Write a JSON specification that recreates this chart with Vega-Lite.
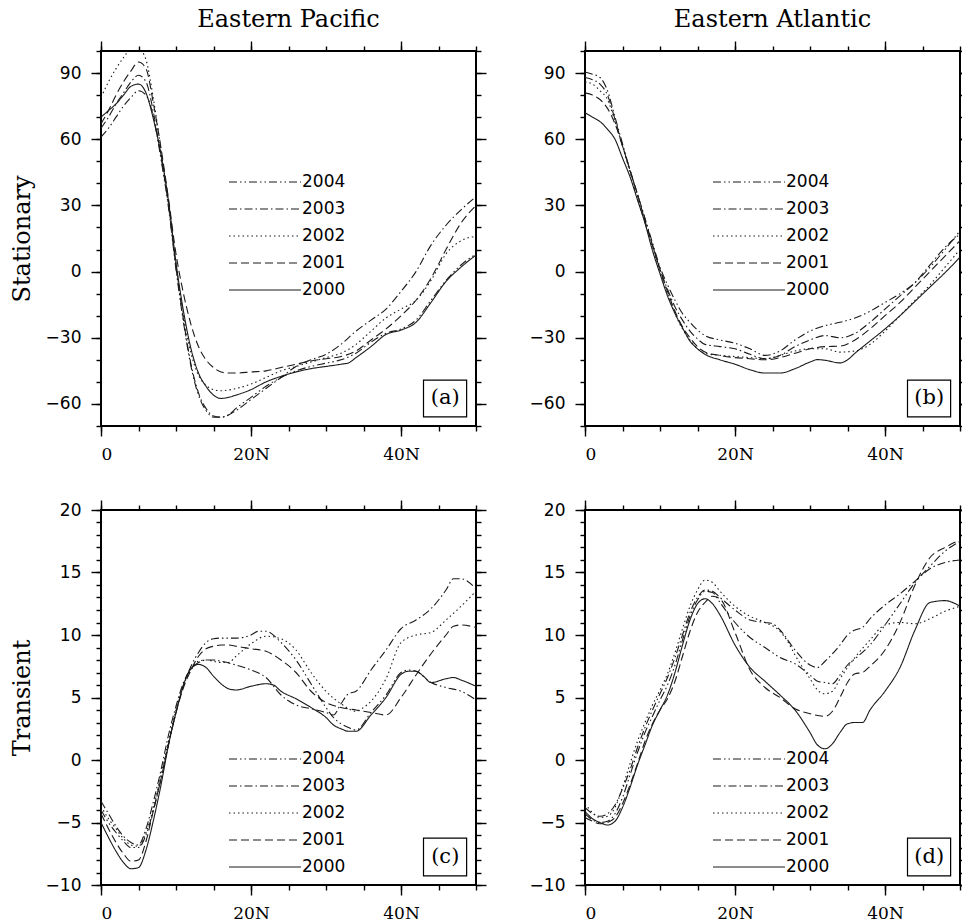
{
"$schema": "https://vega.github.io/schema/vega-lite/v6.json",
"background": "white",
"padding": {"left": 9, "top": 7, "right": 0, "bottom": 0},
"columns": 2,
"spacing": {"row": 84, "column": 109},
"bounds": "flush",
"resolve": {"scale": {"strokeDash": "independent"}, "legend": {"strokeDash": "independent"}},
"datasets": {
"a": [
{"x":0,"s":"2000","v":70},{"x":1,"s":"2000","v":73},{"x":2,"s":"2000","v":76},{"x":3,"s":"2000","v":80},{"x":4,"s":"2000","v":84},{"x":5,"s":"2000","v":85},{"x":6,"s":"2000","v":81},{"x":7,"s":"2000","v":69},{"x":8,"s":"2000","v":53},{"x":9,"s":"2000","v":32},{"x":10,"s":"2000","v":4},{"x":11,"s":"2000","v":-18},{"x":12,"s":"2000","v":-35},{"x":13,"s":"2000","v":-46},{"x":14,"s":"2000","v":-52},{"x":15,"s":"2000","v":-56},{"x":16,"s":"2000","v":-57.5},{"x":17,"s":"2000","v":-57},{"x":18,"s":"2000","v":-56},{"x":20,"s":"2000","v":-53.5},{"x":22,"s":"2000","v":-50},{"x":24,"s":"2000","v":-47.5},{"x":26,"s":"2000","v":-45.5},{"x":28,"s":"2000","v":-44},{"x":30,"s":"2000","v":-43},{"x":32,"s":"2000","v":-42},{"x":33,"s":"2000","v":-41.4},{"x":34,"s":"2000","v":-39},{"x":36,"s":"2000","v":-34},{"x":38,"s":"2000","v":-28.5},{"x":40,"s":"2000","v":-26.5},{"x":42,"s":"2000","v":-23},{"x":44,"s":"2000","v":-14},{"x":46,"s":"2000","v":-4.5},{"x":48,"s":"2000","v":2},{"x":50,"s":"2000","v":7.5},
{"x":0,"s":"2001","v":67},{"x":1,"s":"2001","v":73},{"x":2,"s":"2001","v":80},{"x":3,"s":"2001","v":86},{"x":4,"s":"2001","v":91},{"x":5,"s":"2001","v":95},{"x":6,"s":"2001","v":92},{"x":7,"s":"2001","v":76},{"x":8,"s":"2001","v":56},{"x":9,"s":"2001","v":33},{"x":10,"s":"2001","v":8},{"x":11,"s":"2001","v":-10},{"x":12,"s":"2001","v":-24},{"x":13,"s":"2001","v":-34},{"x":14,"s":"2001","v":-40},{"x":15,"s":"2001","v":-43.5},{"x":16,"s":"2001","v":-45.5},{"x":17,"s":"2001","v":-46},{"x":18,"s":"2001","v":-46},{"x":20,"s":"2001","v":-45.5},{"x":22,"s":"2001","v":-45},{"x":24,"s":"2001","v":-43.5},{"x":26,"s":"2001","v":-42},{"x":28,"s":"2001","v":-40.5},{"x":30,"s":"2001","v":-39.5},{"x":32,"s":"2001","v":-38.5},{"x":34,"s":"2001","v":-36},{"x":36,"s":"2001","v":-31},{"x":38,"s":"2001","v":-26},{"x":40,"s":"2001","v":-20},{"x":42,"s":"2001","v":-13},{"x":44,"s":"2001","v":-3},{"x":46,"s":"2001","v":10},{"x":48,"s":"2001","v":22},{"x":50,"s":"2001","v":30},
{"x":0,"s":"2002","v":79},{"x":1,"s":"2002","v":86},{"x":2,"s":"2002","v":92},{"x":3,"s":"2002","v":97},{"x":4,"s":"2002","v":101},{"x":5,"s":"2002","v":101},{"x":6,"s":"2002","v":96},{"x":7,"s":"2002","v":78},{"x":8,"s":"2002","v":55},{"x":9,"s":"2002","v":31},{"x":10,"s":"2002","v":3},{"x":11,"s":"2002","v":-20},{"x":12,"s":"2002","v":-37},{"x":13,"s":"2002","v":-47},{"x":14,"s":"2002","v":-51.5},{"x":15,"s":"2002","v":-53.5},{"x":16,"s":"2002","v":-54},{"x":18,"s":"2002","v":-53},{"x":20,"s":"2002","v":-51},{"x":22,"s":"2002","v":-48},{"x":24,"s":"2002","v":-45},{"x":26,"s":"2002","v":-43},{"x":28,"s":"2002","v":-41},{"x":30,"s":"2002","v":-39},{"x":32,"s":"2002","v":-37},{"x":34,"s":"2002","v":-33},{"x":36,"s":"2002","v":-27},{"x":38,"s":"2002","v":-21},{"x":40,"s":"2002","v":-17},{"x":42,"s":"2002","v":-13},{"x":44,"s":"2002","v":-4},{"x":46,"s":"2002","v":8},{"x":48,"s":"2002","v":14},{"x":50,"s":"2002","v":16},
{"x":0,"s":"2003","v":65},{"x":1,"s":"2003","v":70},{"x":2,"s":"2003","v":76},{"x":3,"s":"2003","v":81},{"x":4,"s":"2003","v":86},{"x":5,"s":"2003","v":89},{"x":6,"s":"2003","v":86},{"x":7,"s":"2003","v":72},{"x":8,"s":"2003","v":52},{"x":9,"s":"2003","v":30},{"x":10,"s":"2003","v":2},{"x":11,"s":"2003","v":-22},{"x":12,"s":"2003","v":-42},{"x":13,"s":"2003","v":-55},{"x":14,"s":"2003","v":-62},{"x":15,"s":"2003","v":-65.5},{"x":16,"s":"2003","v":-66},{"x":17,"s":"2003","v":-65},{"x":18,"s":"2003","v":-63},{"x":20,"s":"2003","v":-58},{"x":22,"s":"2003","v":-53},{"x":24,"s":"2003","v":-48},{"x":26,"s":"2003","v":-43},{"x":28,"s":"2003","v":-40},{"x":30,"s":"2003","v":-37.5},{"x":32,"s":"2003","v":-33},{"x":34,"s":"2003","v":-27},{"x":36,"s":"2003","v":-22},{"x":38,"s":"2003","v":-17},{"x":40,"s":"2003","v":-9},{"x":42,"s":"2003","v":0},{"x":44,"s":"2003","v":12},{"x":46,"s":"2003","v":21},{"x":48,"s":"2003","v":28},{"x":50,"s":"2003","v":34},
{"x":0,"s":"2004","v":61},{"x":1,"s":"2004","v":65},{"x":2,"s":"2004","v":70},{"x":3,"s":"2004","v":75},{"x":4,"s":"2004","v":79},{"x":5,"s":"2004","v":82},{"x":6,"s":"2004","v":80},{"x":7,"s":"2004","v":70},{"x":8,"s":"2004","v":51},{"x":9,"s":"2004","v":29},{"x":10,"s":"2004","v":1},{"x":11,"s":"2004","v":-23},{"x":12,"s":"2004","v":-43},{"x":13,"s":"2004","v":-56},{"x":14,"s":"2004","v":-63},{"x":15,"s":"2004","v":-66},{"x":16,"s":"2004","v":-66},{"x":17,"s":"2004","v":-65},{"x":18,"s":"2004","v":-62},{"x":20,"s":"2004","v":-57},{"x":22,"s":"2004","v":-52},{"x":24,"s":"2004","v":-48},{"x":26,"s":"2004","v":-45},{"x":28,"s":"2004","v":-43},{"x":30,"s":"2004","v":-41.5},{"x":32,"s":"2004","v":-40},{"x":34,"s":"2004","v":-37},{"x":36,"s":"2004","v":-32},{"x":38,"s":"2004","v":-28},{"x":40,"s":"2004","v":-26},{"x":42,"s":"2004","v":-22},{"x":44,"s":"2004","v":-13},{"x":46,"s":"2004","v":-4},{"x":48,"s":"2004","v":3},{"x":50,"s":"2004","v":8}
],
"b": [
{"x":0,"s":"2000","v":72},{"x":1,"s":"2000","v":70},{"x":2,"s":"2000","v":68},{"x":3,"s":"2000","v":64.5},{"x":4,"s":"2000","v":60},{"x":5,"s":"2000","v":51.5},{"x":6,"s":"2000","v":43},{"x":7,"s":"2000","v":32.5},{"x":8,"s":"2000","v":22},{"x":9,"s":"2000","v":9.5},{"x":10,"s":"2000","v":-1},{"x":11,"s":"2000","v":-11},{"x":12,"s":"2000","v":-19},{"x":13,"s":"2000","v":-25.5},{"x":14,"s":"2000","v":-31.5},{"x":15,"s":"2000","v":-35},{"x":16,"s":"2000","v":-37.5},{"x":18,"s":"2000","v":-40},{"x":20,"s":"2000","v":-42},{"x":22,"s":"2000","v":-44.5},{"x":24,"s":"2000","v":-46},{"x":26,"s":"2000","v":-46},{"x":28,"s":"2000","v":-44},{"x":30,"s":"2000","v":-41},{"x":31,"s":"2000","v":-39.9},{"x":32,"s":"2000","v":-40.2},{"x":34,"s":"2000","v":-41.4},{"x":35,"s":"2000","v":-40},{"x":36,"s":"2000","v":-37},{"x":38,"s":"2000","v":-31.5},{"x":40,"s":"2000","v":-26},{"x":42,"s":"2000","v":-20},{"x":44,"s":"2000","v":-13.5},{"x":46,"s":"2000","v":-7},{"x":48,"s":"2000","v":-0.5},{"x":50,"s":"2000","v":6.5},
{"x":0,"s":"2001","v":81},{"x":1,"s":"2001","v":80},{"x":2,"s":"2001","v":78},{"x":3,"s":"2001","v":74},{"x":4,"s":"2001","v":67},{"x":5,"s":"2001","v":57},{"x":6,"s":"2001","v":46},{"x":7,"s":"2001","v":35},{"x":8,"s":"2001","v":23},{"x":9,"s":"2001","v":12},{"x":10,"s":"2001","v":1},{"x":11,"s":"2001","v":-9},{"x":12,"s":"2001","v":-18},{"x":13,"s":"2001","v":-25},{"x":14,"s":"2001","v":-30},{"x":15,"s":"2001","v":-34},{"x":16,"s":"2001","v":-36.5},{"x":18,"s":"2001","v":-38},{"x":20,"s":"2001","v":-39},{"x":22,"s":"2001","v":-39.5},{"x":24,"s":"2001","v":-40},{"x":26,"s":"2001","v":-39},{"x":28,"s":"2001","v":-37},{"x":30,"s":"2001","v":-35},{"x":32,"s":"2001","v":-34},{"x":34,"s":"2001","v":-33.8},{"x":36,"s":"2001","v":-31},{"x":38,"s":"2001","v":-26},{"x":40,"s":"2001","v":-20},{"x":42,"s":"2001","v":-14},{"x":44,"s":"2001","v":-7},{"x":46,"s":"2001","v":0},{"x":48,"s":"2001","v":7},{"x":50,"s":"2001","v":14},
{"x":0,"s":"2002","v":86},{"x":1,"s":"2002","v":85},{"x":2,"s":"2002","v":82},{"x":3,"s":"2002","v":78},{"x":4,"s":"2002","v":68},{"x":5,"s":"2002","v":57},{"x":6,"s":"2002","v":45},{"x":7,"s":"2002","v":33},{"x":8,"s":"2002","v":22},{"x":9,"s":"2002","v":11},{"x":10,"s":"2002","v":0},{"x":11,"s":"2002","v":-10},{"x":12,"s":"2002","v":-19},{"x":13,"s":"2002","v":-26},{"x":14,"s":"2002","v":-31},{"x":15,"s":"2002","v":-35},{"x":16,"s":"2002","v":-37},{"x":18,"s":"2002","v":-38},{"x":20,"s":"2002","v":-38.5},{"x":22,"s":"2002","v":-39},{"x":24,"s":"2002","v":-39.5},{"x":26,"s":"2002","v":-38},{"x":28,"s":"2002","v":-36},{"x":30,"s":"2002","v":-35},{"x":32,"s":"2002","v":-35},{"x":34,"s":"2002","v":-36.5},{"x":36,"s":"2002","v":-36},{"x":38,"s":"2002","v":-33},{"x":40,"s":"2002","v":-27},{"x":42,"s":"2002","v":-20},{"x":44,"s":"2002","v":-13},{"x":46,"s":"2002","v":-6},{"x":48,"s":"2002","v":2},{"x":50,"s":"2002","v":10},
{"x":0,"s":"2003","v":88},{"x":1,"s":"2003","v":87},{"x":2,"s":"2003","v":85},{"x":3,"s":"2003","v":80},{"x":4,"s":"2003","v":69},{"x":5,"s":"2003","v":57},{"x":6,"s":"2003","v":46},{"x":7,"s":"2003","v":35},{"x":8,"s":"2003","v":24},{"x":9,"s":"2003","v":12},{"x":10,"s":"2003","v":1},{"x":11,"s":"2003","v":-8},{"x":12,"s":"2003","v":-16},{"x":13,"s":"2003","v":-22},{"x":14,"s":"2003","v":-27},{"x":15,"s":"2003","v":-30.5},{"x":16,"s":"2003","v":-33},{"x":18,"s":"2003","v":-34},{"x":20,"s":"2003","v":-35},{"x":22,"s":"2003","v":-37.5},{"x":24,"s":"2003","v":-39.5},{"x":26,"s":"2003","v":-38},{"x":28,"s":"2003","v":-34},{"x":30,"s":"2003","v":-31},{"x":32,"s":"2003","v":-29},{"x":34,"s":"2003","v":-30},{"x":36,"s":"2003","v":-28},{"x":38,"s":"2003","v":-23},{"x":40,"s":"2003","v":-17},{"x":42,"s":"2003","v":-11},{"x":44,"s":"2003","v":-5},{"x":46,"s":"2003","v":3},{"x":48,"s":"2003","v":11},{"x":50,"s":"2003","v":17},
{"x":0,"s":"2004","v":90.5},{"x":1,"s":"2004","v":89.5},{"x":2,"s":"2004","v":88},{"x":3,"s":"2004","v":82},{"x":4,"s":"2004","v":70},{"x":5,"s":"2004","v":58},{"x":6,"s":"2004","v":46},{"x":7,"s":"2004","v":35},{"x":8,"s":"2004","v":24},{"x":9,"s":"2004","v":13},{"x":10,"s":"2004","v":2},{"x":11,"s":"2004","v":-6},{"x":12,"s":"2004","v":-13},{"x":13,"s":"2004","v":-19},{"x":14,"s":"2004","v":-23},{"x":15,"s":"2004","v":-26.5},{"x":16,"s":"2004","v":-29},{"x":18,"s":"2004","v":-31},{"x":20,"s":"2004","v":-32.5},{"x":22,"s":"2004","v":-35},{"x":24,"s":"2004","v":-38},{"x":26,"s":"2004","v":-36},{"x":28,"s":"2004","v":-31},{"x":30,"s":"2004","v":-27},{"x":32,"s":"2004","v":-24.5},{"x":34,"s":"2004","v":-23},{"x":36,"s":"2004","v":-21},{"x":38,"s":"2004","v":-18},{"x":40,"s":"2004","v":-14},{"x":42,"s":"2004","v":-10},{"x":44,"s":"2004","v":-5},{"x":46,"s":"2004","v":2},{"x":48,"s":"2004","v":10},{"x":50,"s":"2004","v":18.5}
],
"c": [
{"x":0,"s":"2000","v":-5},{"x":1,"s":"2000","v":-6.2},{"x":2,"s":"2000","v":-7.3},{"x":3,"s":"2000","v":-8.2},{"x":4,"s":"2000","v":-8.7},{"x":5,"s":"2000","v":-8.6},{"x":6,"s":"2000","v":-7.2},{"x":7,"s":"2000","v":-4.8},{"x":8,"s":"2000","v":-2},{"x":9,"s":"2000","v":1.2},{"x":10,"s":"2000","v":3.8},{"x":11,"s":"2000","v":6},{"x":12,"s":"2000","v":7.3},{"x":13,"s":"2000","v":7.65},{"x":14,"s":"2000","v":7.4},{"x":15,"s":"2000","v":6.7},{"x":16,"s":"2000","v":6.1},{"x":17,"s":"2000","v":5.7},{"x":18,"s":"2000","v":5.6},{"x":20,"s":"2000","v":5.9},{"x":22,"s":"2000","v":6.1},{"x":23,"s":"2000","v":6},{"x":24,"s":"2000","v":5.5},{"x":26,"s":"2000","v":4.9},{"x":28,"s":"2000","v":4.2},{"x":30,"s":"2000","v":3.4},{"x":31,"s":"2000","v":2.8},{"x":32,"s":"2000","v":2.5},{"x":33,"s":"2000","v":2.3},{"x":34,"s":"2000","v":2.3},{"x":36,"s":"2000","v":3.6},{"x":38,"s":"2000","v":5},{"x":40,"s":"2000","v":6.85},{"x":41,"s":"2000","v":7.1},{"x":42,"s":"2000","v":7.1},{"x":43,"s":"2000","v":6.7},{"x":44,"s":"2000","v":6.2},{"x":46,"s":"2000","v":6.5},{"x":47,"s":"2000","v":6.6},{"x":48,"s":"2000","v":6.4},{"x":50,"s":"2000","v":5.9},
{"x":0,"s":"2001","v":-4.3},{"x":1,"s":"2001","v":-5.5},{"x":2,"s":"2001","v":-6.6},{"x":3,"s":"2001","v":-7.5},{"x":4,"s":"2001","v":-8.1},{"x":5,"s":"2001","v":-8},{"x":6,"s":"2001","v":-6.5},{"x":7,"s":"2001","v":-4},{"x":8,"s":"2001","v":-1.5},{"x":9,"s":"2001","v":1.3},{"x":10,"s":"2001","v":3.8},{"x":11,"s":"2001","v":5.8},{"x":12,"s":"2001","v":7.2},{"x":13,"s":"2001","v":8.3},{"x":14,"s":"2001","v":8.9},{"x":15,"s":"2001","v":9.1},{"x":16,"s":"2001","v":9.2},{"x":17,"s":"2001","v":9.2},{"x":18,"s":"2001","v":9.1},{"x":20,"s":"2001","v":8.9},{"x":22,"s":"2001","v":8.7},{"x":24,"s":"2001","v":8},{"x":26,"s":"2001","v":7},{"x":28,"s":"2001","v":5.5},{"x":30,"s":"2001","v":4.6},{"x":32,"s":"2001","v":4.2},{"x":34,"s":"2001","v":4},{"x":36,"s":"2001","v":3.8},{"x":38,"s":"2001","v":3.6},{"x":40,"s":"2001","v":5},{"x":42,"s":"2001","v":6.8},{"x":44,"s":"2001","v":8.5},{"x":46,"s":"2001","v":10},{"x":47,"s":"2001","v":10.7},{"x":48,"s":"2001","v":10.8},{"x":50,"s":"2001","v":10.6},
{"x":0,"s":"2002","v":-3.7},{"x":1,"s":"2002","v":-4.7},{"x":2,"s":"2002","v":-5.5},{"x":3,"s":"2002","v":-6.3},{"x":4,"s":"2002","v":-6.8},{"x":5,"s":"2002","v":-6.9},{"x":6,"s":"2002","v":-5.8},{"x":7,"s":"2002","v":-3.8},{"x":8,"s":"2002","v":-1.2},{"x":9,"s":"2002","v":1.5},{"x":10,"s":"2002","v":4},{"x":11,"s":"2002","v":6},{"x":12,"s":"2002","v":7.2},{"x":13,"s":"2002","v":7.9},{"x":14,"s":"2002","v":8},{"x":15,"s":"2002","v":7.9},{"x":16,"s":"2002","v":7.8},{"x":17,"s":"2002","v":7.8},{"x":18,"s":"2002","v":8.3},{"x":20,"s":"2002","v":9.3},{"x":22,"s":"2002","v":9.9},{"x":24,"s":"2002","v":9.7},{"x":26,"s":"2002","v":8.8},{"x":28,"s":"2002","v":7},{"x":30,"s":"2002","v":5.5},{"x":32,"s":"2002","v":4.5},{"x":34,"s":"2002","v":3.9},{"x":35,"s":"2002","v":4.2},{"x":36,"s":"2002","v":4.7},{"x":38,"s":"2002","v":6.5},{"x":40,"s":"2002","v":9.4},{"x":42,"s":"2002","v":10},{"x":44,"s":"2002","v":10.2},{"x":46,"s":"2002","v":11.2},{"x":48,"s":"2002","v":12.3},{"x":50,"s":"2002","v":13.5},
{"x":0,"s":"2003","v":-3.3},{"x":1,"s":"2003","v":-4.3},{"x":2,"s":"2003","v":-5.3},{"x":3,"s":"2003","v":-6.1},{"x":4,"s":"2003","v":-6.6},{"x":5,"s":"2003","v":-6.8},{"x":6,"s":"2003","v":-5.5},{"x":7,"s":"2003","v":-3.3},{"x":8,"s":"2003","v":-0.8},{"x":9,"s":"2003","v":2},{"x":10,"s":"2003","v":4.3},{"x":11,"s":"2003","v":6.2},{"x":12,"s":"2003","v":7.3},{"x":13,"s":"2003","v":7.8},{"x":14,"s":"2003","v":8},{"x":15,"s":"2003","v":8},{"x":16,"s":"2003","v":7.9},{"x":18,"s":"2003","v":7.6},{"x":20,"s":"2003","v":7.2},{"x":22,"s":"2003","v":6.6},{"x":24,"s":"2003","v":5.2},{"x":26,"s":"2003","v":4.4},{"x":28,"s":"2003","v":4.1},{"x":30,"s":"2003","v":3.8},{"x":31,"s":"2003","v":3.6},{"x":32,"s":"2003","v":4.5},{"x":33,"s":"2003","v":5.3},{"x":34,"s":"2003","v":5.5},{"x":36,"s":"2003","v":7.2},{"x":38,"s":"2003","v":8.8},{"x":40,"s":"2003","v":10.5},{"x":42,"s":"2003","v":11.2},{"x":44,"s":"2003","v":12.1},{"x":46,"s":"2003","v":13.6},{"x":47,"s":"2003","v":14.5},{"x":48,"s":"2003","v":14.5},{"x":50,"s":"2003","v":13.7},
{"x":0,"s":"2004","v":-4},{"x":1,"s":"2004","v":-5},{"x":2,"s":"2004","v":-5.8},{"x":3,"s":"2004","v":-6.5},{"x":4,"s":"2004","v":-7},{"x":5,"s":"2004","v":-7},{"x":6,"s":"2004","v":-6},{"x":7,"s":"2004","v":-4},{"x":8,"s":"2004","v":-1.5},{"x":9,"s":"2004","v":1.2},{"x":10,"s":"2004","v":3.8},{"x":11,"s":"2004","v":6},{"x":12,"s":"2004","v":7.5},{"x":13,"s":"2004","v":8.6},{"x":14,"s":"2004","v":9.4},{"x":15,"s":"2004","v":9.7},{"x":16,"s":"2004","v":9.75},{"x":18,"s":"2004","v":9.75},{"x":20,"s":"2004","v":10},{"x":21,"s":"2004","v":10.3},{"x":22,"s":"2004","v":10.3},{"x":24,"s":"2004","v":9.4},{"x":26,"s":"2004","v":8},{"x":28,"s":"2004","v":6.1},{"x":30,"s":"2004","v":4.2},{"x":31,"s":"2004","v":3.4},{"x":32,"s":"2004","v":2.9},{"x":33,"s":"2004","v":2.6},{"x":34,"s":"2004","v":2.4},{"x":36,"s":"2004","v":3.8},{"x":38,"s":"2004","v":5.2},{"x":40,"s":"2004","v":7},{"x":41,"s":"2004","v":7.2},{"x":42,"s":"2004","v":7.1},{"x":44,"s":"2004","v":6.2},{"x":46,"s":"2004","v":5.8},{"x":48,"s":"2004","v":5.5},{"x":50,"s":"2004","v":4.8}
],
"d": [
{"x":0,"s":"2000","v":-4.1},{"x":1,"s":"2000","v":-4.7},{"x":2,"s":"2000","v":-5},{"x":3,"s":"2000","v":-5.2},{"x":4,"s":"2000","v":-4.9},{"x":5,"s":"2000","v":-3.8},{"x":6,"s":"2000","v":-2.2},{"x":7,"s":"2000","v":-0.4},{"x":8,"s":"2000","v":1.2},{"x":9,"s":"2000","v":2.8},{"x":10,"s":"2000","v":4},{"x":11,"s":"2000","v":5.2},{"x":12,"s":"2000","v":7},{"x":13,"s":"2000","v":9.2},{"x":14,"s":"2000","v":11.2},{"x":15,"s":"2000","v":12.5},{"x":16,"s":"2000","v":12.9},{"x":17,"s":"2000","v":12.5},{"x":18,"s":"2000","v":11.6},{"x":20,"s":"2000","v":9.2},{"x":22,"s":"2000","v":7.4},{"x":24,"s":"2000","v":6.3},{"x":26,"s":"2000","v":5.2},{"x":28,"s":"2000","v":4},{"x":30,"s":"2000","v":2.2},{"x":31,"s":"2000","v":1.2},{"x":32,"s":"2000","v":0.9},{"x":33,"s":"2000","v":1.3},{"x":34,"s":"2000","v":2.2},{"x":35,"s":"2000","v":2.9},{"x":36,"s":"2000","v":3},{"x":37,"s":"2000","v":3},{"x":38,"s":"2000","v":4},{"x":40,"s":"2000","v":5.5},{"x":42,"s":"2000","v":7.4},{"x":44,"s":"2000","v":10.4},{"x":46,"s":"2000","v":12.6},{"x":48,"s":"2000","v":12.75},{"x":50,"s":"2000","v":12.3},
{"x":0,"s":"2001","v":-4.6},{"x":1,"s":"2001","v":-4.9},{"x":2,"s":"2001","v":-5.1},{"x":3,"s":"2001","v":-5},{"x":4,"s":"2001","v":-4.6},{"x":5,"s":"2001","v":-3.5},{"x":6,"s":"2001","v":-2},{"x":7,"s":"2001","v":-0.3},{"x":8,"s":"2001","v":1.5},{"x":9,"s":"2001","v":2.9},{"x":10,"s":"2001","v":4},{"x":11,"s":"2001","v":4.9},{"x":12,"s":"2001","v":6.3},{"x":13,"s":"2001","v":8.3},{"x":14,"s":"2001","v":10.3},{"x":15,"s":"2001","v":11.8},{"x":16,"s":"2001","v":12.6},{"x":17,"s":"2001","v":13.1},{"x":18,"s":"2001","v":12.9},{"x":20,"s":"2001","v":10.2},{"x":22,"s":"2001","v":7.2},{"x":24,"s":"2001","v":5.8},{"x":26,"s":"2001","v":5},{"x":28,"s":"2001","v":4.1},{"x":30,"s":"2001","v":3.7},{"x":32,"s":"2001","v":3.5},{"x":33,"s":"2001","v":3.9},{"x":34,"s":"2001","v":5},{"x":35,"s":"2001","v":6.2},{"x":36,"s":"2001","v":6.9},{"x":37,"s":"2001","v":7},{"x":38,"s":"2001","v":7.5},{"x":40,"s":"2001","v":8.8},{"x":42,"s":"2001","v":11},{"x":44,"s":"2001","v":14},{"x":46,"s":"2001","v":16.2},{"x":48,"s":"2001","v":17},{"x":50,"s":"2001","v":17.6},
{"x":0,"s":"2002","v":-3.5},{"x":1,"s":"2002","v":-4.2},{"x":2,"s":"2002","v":-4.6},{"x":3,"s":"2002","v":-4.5},{"x":4,"s":"2002","v":-3.8},{"x":5,"s":"2002","v":-2.2},{"x":6,"s":"2002","v":-0.3},{"x":7,"s":"2002","v":1.5},{"x":8,"s":"2002","v":3},{"x":9,"s":"2002","v":4.4},{"x":10,"s":"2002","v":5.6},{"x":11,"s":"2002","v":6.9},{"x":12,"s":"2002","v":8.6},{"x":13,"s":"2002","v":10.5},{"x":14,"s":"2002","v":12.3},{"x":15,"s":"2002","v":13.6},{"x":16,"s":"2002","v":14.4},{"x":17,"s":"2002","v":14.2},{"x":18,"s":"2002","v":13.5},{"x":20,"s":"2002","v":12.3},{"x":22,"s":"2002","v":11.5},{"x":24,"s":"2002","v":11},{"x":26,"s":"2002","v":10.3},{"x":27,"s":"2002","v":9.5},{"x":28,"s":"2002","v":8.4},{"x":30,"s":"2002","v":6.5},{"x":31,"s":"2002","v":5.6},{"x":32,"s":"2002","v":5.3},{"x":33,"s":"2002","v":5.5},{"x":34,"s":"2002","v":6.5},{"x":36,"s":"2002","v":8.2},{"x":38,"s":"2002","v":9.6},{"x":40,"s":"2002","v":10.8},{"x":42,"s":"2002","v":11},{"x":44,"s":"2002","v":10.9},{"x":46,"s":"2002","v":11.3},{"x":48,"s":"2002","v":11.9},{"x":50,"s":"2002","v":12.3},
{"x":0,"s":"2003","v":-3.8},{"x":1,"s":"2003","v":-4.3},{"x":2,"s":"2003","v":-4.5},{"x":3,"s":"2003","v":-4.3},{"x":4,"s":"2003","v":-3.6},{"x":5,"s":"2003","v":-2.3},{"x":6,"s":"2003","v":-0.8},{"x":7,"s":"2003","v":1},{"x":8,"s":"2003","v":2.6},{"x":9,"s":"2003","v":4},{"x":10,"s":"2003","v":5.3},{"x":11,"s":"2003","v":6.6},{"x":12,"s":"2003","v":8.2},{"x":13,"s":"2003","v":10},{"x":14,"s":"2003","v":11.8},{"x":15,"s":"2003","v":13},{"x":16,"s":"2003","v":13.6},{"x":17,"s":"2003","v":13.5},{"x":18,"s":"2003","v":13},{"x":20,"s":"2003","v":12},{"x":22,"s":"2003","v":11.2},{"x":24,"s":"2003","v":11},{"x":25,"s":"2003","v":10.9},{"x":26,"s":"2003","v":10.4},{"x":28,"s":"2003","v":8.8},{"x":30,"s":"2003","v":7.6},{"x":31,"s":"2003","v":7.4},{"x":32,"s":"2003","v":7.9},{"x":34,"s":"2003","v":9.2},{"x":35,"s":"2003","v":10},{"x":36,"s":"2003","v":10.4},{"x":37,"s":"2003","v":10.6},{"x":38,"s":"2003","v":11.3},{"x":40,"s":"2003","v":12.4},{"x":42,"s":"2003","v":13.3},{"x":44,"s":"2003","v":14.3},{"x":46,"s":"2003","v":15.3},{"x":48,"s":"2003","v":15.8},{"x":50,"s":"2003","v":16},
{"x":0,"s":"2004","v":-4.3},{"x":1,"s":"2004","v":-4.8},{"x":2,"s":"2004","v":-5},{"x":3,"s":"2004","v":-4.9},{"x":4,"s":"2004","v":-4.3},{"x":5,"s":"2004","v":-3},{"x":6,"s":"2004","v":-1.2},{"x":7,"s":"2004","v":0.6},{"x":8,"s":"2004","v":2.2},{"x":9,"s":"2004","v":3.5},{"x":10,"s":"2004","v":4.8},{"x":11,"s":"2004","v":6},{"x":12,"s":"2004","v":7.6},{"x":13,"s":"2004","v":9.6},{"x":14,"s":"2004","v":11.5},{"x":15,"s":"2004","v":12.8},{"x":16,"s":"2004","v":13.5},{"x":17,"s":"2004","v":13.4},{"x":18,"s":"2004","v":12.6},{"x":20,"s":"2004","v":11},{"x":22,"s":"2004","v":9.8},{"x":24,"s":"2004","v":9},{"x":26,"s":"2004","v":8.2},{"x":28,"s":"2004","v":7.7},{"x":30,"s":"2004","v":6.8},{"x":31,"s":"2004","v":6.3},{"x":32,"s":"2004","v":6.2},{"x":33,"s":"2004","v":6.1},{"x":34,"s":"2004","v":6.8},{"x":35,"s":"2004","v":7.6},{"x":36,"s":"2004","v":8.1},{"x":38,"s":"2004","v":9.2},{"x":40,"s":"2004","v":10.8},{"x":42,"s":"2004","v":12.5},{"x":44,"s":"2004","v":14.2},{"x":46,"s":"2004","v":15.5},{"x":48,"s":"2004","v":16.7},{"x":50,"s":"2004","v":17.5}
]
},
"concat": [
{
"width": 375, "height": 375,
"title": {"text": "Eastern Pacific"},
"data": {"name": "a"},
"layer": [
{"mark": {"type": "line", "clip": true, "color": "#1a1a1a", "strokeWidth": 1.1, "interpolate": "monotone"},
 "encoding": {
  "x": {"field": "x", "type": "quantitative", "scale": {"domain": [0, 50], "nice": false, "zero": false},
        "axis": {"orient": "bottom", "values": [0, 20, 40], "tickSize": 10, "labelPadding": 10, "labelFont": "DejaVu Serif", "labelFontSize": 17, "labelExpr": "datum.value == 0 ? '0' : datum.value + 'N'", "title": null}},
  "y": {"field": "v", "type": "quantitative", "scale": {"domain": [-70, 100], "nice": false, "zero": false},
        "axis": {"orient": "left", "values": [-60, -30, 0, 30, 60, 90], "tickSize": 10, "labelPadding": 10, "labelFont": "DejaVu Sans", "labelFontSize": 17, "title": "Stationary", "titleFont": "DejaVu Serif", "titleFontSize": 24, "titleAngle": -90, "titleBaseline": "middle", "titleAlign": "center", "titleX": -79, "titleY": 187.5}},
  "strokeDash": {"field": "s", "type": "nominal",
        "scale": {"domain": ["2004", "2003", "2002", "2001", "2000"], "range": [[8, 3, 1.5, 3, 1.5, 3], [8, 3, 1.5, 3], [1.5, 3], [8, 4], [1, 0]]},
        "legend": {"orient": "none", "legendX": 154, "legendY": 121, "title": null, "padding": 0, "symbolType": "M-4,0H4", "symbolSize": 324, "symbolStrokeWidth": 1.1, "symbolStrokeColor": "#1a1a1a", "labelOffset": 27, "rowPadding": 9, "labelFont": "DejaVu Sans", "labelFontSize": 17, "labelColor": "#000"}}
 }},
{"mark": {"type": "point", "opacity": 0},
 "encoding": {
  "x": {"field": "x", "type": "quantitative", "axis": {"orient": "top", "values": [0, 20, 40], "tickSize": 10, "labels": false, "title": null}},
  "y": {"field": "v", "type": "quantitative", "axis": {"orient": "right", "values": [-60, -30, 0, 30, 60, 90], "tickSize": 10, "labels": false, "title": null}}}},
{"mark": {"type": "point", "opacity": 0},
 "encoding": {
  "x": {"field": "x", "type": "quantitative", "axis": {"orient": "bottom", "values": [0, 5, 10, 15, 20, 25, 30, 35, 40, 45, 50], "tickSize": 5, "labels": false, "title": null}},
  "y": {"field": "v", "type": "quantitative", "axis": {"orient": "left", "values": [-70, -60, -50, -40, -30, -20, -10, 0, 10, 20, 30, 40, 50, 60, 70, 80, 90, 100], "tickSize": 5, "labels": false, "title": null}}}},
{"mark": {"type": "point", "opacity": 0},
 "encoding": {
  "x": {"field": "x", "type": "quantitative", "axis": {"orient": "top", "values": [0, 5, 10, 15, 20, 25, 30, 35, 40, 45, 50], "tickSize": 5, "labels": false, "title": null}},
  "y": {"field": "v", "type": "quantitative", "axis": {"orient": "right", "values": [-70, -60, -50, -40, -30, -20, -10, 0, 10, 20, 30, 40, 50, 60, 70, 80, 90, 100], "tickSize": 5, "labels": false, "title": null}}}},
{"data": {"values": [{}]},
 "mark": {"type": "rect", "fill": "#fff", "stroke": "#000", "strokeWidth": 1.2},
 "encoding": {"x": {"datum": 43, "type": "quantitative", "axis": null}, "x2": {"datum": 48.75}, "y": {"datum": -49.2, "type": "quantitative", "axis": null}, "y2": {"datum": -65.9}}},
{"data": {"values": [{}]},
 "mark": {"type": "text", "text": "(a)", "font": "DejaVu Serif", "fontSize": 21, "align": "center", "baseline": "middle", "color": "#000"},
 "encoding": {"x": {"datum": 45.9, "type": "quantitative", "axis": null}, "y": {"datum": -57.5, "type": "quantitative", "axis": null}}}
],
"resolve": {"axis": {"x": "independent", "y": "independent"}}
},
{
"width": 375, "height": 375,
"title": {"text": "Eastern Atlantic"},
"data": {"name": "b"},
"layer": [
{"mark": {"type": "line", "clip": true, "color": "#1a1a1a", "strokeWidth": 1.1, "interpolate": "monotone"},
 "encoding": {
  "x": {"field": "x", "type": "quantitative", "scale": {"domain": [0, 50], "nice": false, "zero": false},
        "axis": {"orient": "bottom", "values": [0, 20, 40], "tickSize": 10, "labelPadding": 10, "labelFont": "DejaVu Serif", "labelFontSize": 17, "labelExpr": "datum.value == 0 ? '0' : datum.value + 'N'", "title": null}},
  "y": {"field": "v", "type": "quantitative", "scale": {"domain": [-70, 100], "nice": false, "zero": false},
        "axis": {"orient": "left", "values": [-60, -30, 0, 30, 60, 90], "tickSize": 10, "labelPadding": 10, "labelFont": "DejaVu Sans", "labelFontSize": 17, "title": null}},
  "strokeDash": {"field": "s", "type": "nominal",
        "scale": {"domain": ["2004", "2003", "2002", "2001", "2000"], "range": [[8, 3, 1.5, 3, 1.5, 3], [8, 3, 1.5, 3], [1.5, 3], [8, 4], [1, 0]]},
        "legend": {"orient": "none", "legendX": 154, "legendY": 121, "title": null, "padding": 0, "symbolType": "M-4,0H4", "symbolSize": 324, "symbolStrokeWidth": 1.1, "symbolStrokeColor": "#1a1a1a", "labelOffset": 27, "rowPadding": 9, "labelFont": "DejaVu Sans", "labelFontSize": 17, "labelColor": "#000"}}
 }},
{"mark": {"type": "point", "opacity": 0},
 "encoding": {
  "x": {"field": "x", "type": "quantitative", "axis": {"orient": "top", "values": [0, 20, 40], "tickSize": 10, "labels": false, "title": null}},
  "y": {"field": "v", "type": "quantitative", "axis": {"orient": "right", "values": [-60, -30, 0, 30, 60, 90], "tickSize": 10, "labels": false, "title": null}}}},
{"mark": {"type": "point", "opacity": 0},
 "encoding": {
  "x": {"field": "x", "type": "quantitative", "axis": {"orient": "bottom", "values": [0, 5, 10, 15, 20, 25, 30, 35, 40, 45, 50], "tickSize": 5, "labels": false, "title": null}},
  "y": {"field": "v", "type": "quantitative", "axis": {"orient": "left", "values": [-70, -60, -50, -40, -30, -20, -10, 0, 10, 20, 30, 40, 50, 60, 70, 80, 90, 100], "tickSize": 5, "labels": false, "title": null}}}},
{"mark": {"type": "point", "opacity": 0},
 "encoding": {
  "x": {"field": "x", "type": "quantitative", "axis": {"orient": "top", "values": [0, 5, 10, 15, 20, 25, 30, 35, 40, 45, 50], "tickSize": 5, "labels": false, "title": null}},
  "y": {"field": "v", "type": "quantitative", "axis": {"orient": "right", "values": [-70, -60, -50, -40, -30, -20, -10, 0, 10, 20, 30, 40, 50, 60, 70, 80, 90, 100], "tickSize": 5, "labels": false, "title": null}}}},
{"data": {"values": [{}]},
 "mark": {"type": "rect", "fill": "#fff", "stroke": "#000", "strokeWidth": 1.2},
 "encoding": {"x": {"datum": 43, "type": "quantitative", "axis": null}, "x2": {"datum": 48.75}, "y": {"datum": -49.2, "type": "quantitative", "axis": null}, "y2": {"datum": -65.9}}},
{"data": {"values": [{}]},
 "mark": {"type": "text", "text": "(b)", "font": "DejaVu Serif", "fontSize": 21, "align": "center", "baseline": "middle", "color": "#000"},
 "encoding": {"x": {"datum": 45.9, "type": "quantitative", "axis": null}, "y": {"datum": -57.5, "type": "quantitative", "axis": null}}}
],
"resolve": {"axis": {"x": "independent", "y": "independent"}}
},
{
"width": 375, "height": 375,
"data": {"name": "c"},
"layer": [
{"mark": {"type": "line", "clip": true, "color": "#1a1a1a", "strokeWidth": 1.1, "interpolate": "monotone"},
 "encoding": {
  "x": {"field": "x", "type": "quantitative", "scale": {"domain": [0, 50], "nice": false, "zero": false},
        "axis": {"orient": "bottom", "values": [0, 20, 40], "tickSize": 10, "labelPadding": 10, "labelFont": "DejaVu Serif", "labelFontSize": 17, "labelExpr": "datum.value == 0 ? '0' : datum.value + 'N'", "title": null}},
  "y": {"field": "v", "type": "quantitative", "scale": {"domain": [-10, 20], "nice": false, "zero": false},
        "axis": {"orient": "left", "values": [-10, -5, 0, 5, 10, 15, 20], "tickSize": 10, "labelPadding": 10, "labelFont": "DejaVu Sans", "labelFontSize": 17, "title": "Transient", "titleFont": "DejaVu Serif", "titleFontSize": 24, "titleAngle": -90, "titleBaseline": "middle", "titleAlign": "center", "titleX": -79, "titleY": 187.5}},
  "strokeDash": {"field": "s", "type": "nominal",
        "scale": {"domain": ["2004", "2003", "2002", "2001", "2000"], "range": [[8, 3, 1.5, 3, 1.5, 3], [8, 3, 1.5, 3], [1.5, 3], [8, 4], [1, 0]]},
        "legend": {"orient": "none", "legendX": 154, "legendY": 239, "title": null, "padding": 0, "symbolType": "M-4,0H4", "symbolSize": 324, "symbolStrokeWidth": 1.1, "symbolStrokeColor": "#1a1a1a", "labelOffset": 27, "rowPadding": 9, "labelFont": "DejaVu Sans", "labelFontSize": 17, "labelColor": "#000"}}
 }},
{"mark": {"type": "point", "opacity": 0},
 "encoding": {
  "x": {"field": "x", "type": "quantitative", "axis": {"orient": "top", "values": [0, 20, 40], "tickSize": 10, "labels": false, "title": null}},
  "y": {"field": "v", "type": "quantitative", "axis": {"orient": "right", "values": [-10, -5, 0, 5, 10, 15, 20], "tickSize": 10, "labels": false, "title": null}}}},
{"mark": {"type": "point", "opacity": 0},
 "encoding": {
  "x": {"field": "x", "type": "quantitative", "axis": {"orient": "bottom", "values": [0, 5, 10, 15, 20, 25, 30, 35, 40, 45, 50], "tickSize": 5, "labels": false, "title": null}},
  "y": {"field": "v", "type": "quantitative", "axis": {"orient": "left", "values": [-10, -9, -8, -7, -6, -5, -4, -3, -2, -1, 0, 1, 2, 3, 4, 5, 6, 7, 8, 9, 10, 11, 12, 13, 14, 15, 16, 17, 18, 19, 20], "tickSize": 5, "labels": false, "title": null}}}},
{"mark": {"type": "point", "opacity": 0},
 "encoding": {
  "x": {"field": "x", "type": "quantitative", "axis": {"orient": "top", "values": [0, 5, 10, 15, 20, 25, 30, 35, 40, 45, 50], "tickSize": 5, "labels": false, "title": null}},
  "y": {"field": "v", "type": "quantitative", "axis": {"orient": "right", "values": [-10, -9, -8, -7, -6, -5, -4, -3, -2, -1, 0, 1, 2, 3, 4, 5, 6, 7, 8, 9, 10, 11, 12, 13, 14, 15, 16, 17, 18, 19, 20], "tickSize": 5, "labels": false, "title": null}}}},
{"data": {"values": [{}]},
 "mark": {"type": "rect", "fill": "#fff", "stroke": "#000", "strokeWidth": 1.2},
 "encoding": {"x": {"datum": 43, "type": "quantitative", "axis": null}, "x2": {"datum": 48.75}, "y": {"datum": -6.25, "type": "quantitative", "axis": null}, "y2": {"datum": -9.27}}},
{"data": {"values": [{}]},
 "mark": {"type": "text", "text": "(c)", "font": "DejaVu Serif", "fontSize": 21, "align": "center", "baseline": "middle", "color": "#000"},
 "encoding": {"x": {"datum": 45.9, "type": "quantitative", "axis": null}, "y": {"datum": -7.76, "type": "quantitative", "axis": null}}}
],
"resolve": {"axis": {"x": "independent", "y": "independent"}}
},
{
"width": 375, "height": 375,
"data": {"name": "d"},
"layer": [
{"mark": {"type": "line", "clip": true, "color": "#1a1a1a", "strokeWidth": 1.1, "interpolate": "monotone"},
 "encoding": {
  "x": {"field": "x", "type": "quantitative", "scale": {"domain": [0, 50], "nice": false, "zero": false},
        "axis": {"orient": "bottom", "values": [0, 20, 40], "tickSize": 10, "labelPadding": 10, "labelFont": "DejaVu Serif", "labelFontSize": 17, "labelExpr": "datum.value == 0 ? '0' : datum.value + 'N'", "title": null}},
  "y": {"field": "v", "type": "quantitative", "scale": {"domain": [-10, 20], "nice": false, "zero": false},
        "axis": {"orient": "left", "values": [-10, -5, 0, 5, 10, 15, 20], "tickSize": 10, "labelPadding": 10, "labelFont": "DejaVu Sans", "labelFontSize": 17, "title": null}},
  "strokeDash": {"field": "s", "type": "nominal",
        "scale": {"domain": ["2004", "2003", "2002", "2001", "2000"], "range": [[8, 3, 1.5, 3, 1.5, 3], [8, 3, 1.5, 3], [1.5, 3], [8, 4], [1, 0]]},
        "legend": {"orient": "none", "legendX": 154, "legendY": 239, "title": null, "padding": 0, "symbolType": "M-4,0H4", "symbolSize": 324, "symbolStrokeWidth": 1.1, "symbolStrokeColor": "#1a1a1a", "labelOffset": 27, "rowPadding": 9, "labelFont": "DejaVu Sans", "labelFontSize": 17, "labelColor": "#000"}}
 }},
{"mark": {"type": "point", "opacity": 0},
 "encoding": {
  "x": {"field": "x", "type": "quantitative", "axis": {"orient": "top", "values": [0, 20, 40], "tickSize": 10, "labels": false, "title": null}},
  "y": {"field": "v", "type": "quantitative", "axis": {"orient": "right", "values": [-10, -5, 0, 5, 10, 15, 20], "tickSize": 10, "labels": false, "title": null}}}},
{"mark": {"type": "point", "opacity": 0},
 "encoding": {
  "x": {"field": "x", "type": "quantitative", "axis": {"orient": "bottom", "values": [0, 5, 10, 15, 20, 25, 30, 35, 40, 45, 50], "tickSize": 5, "labels": false, "title": null}},
  "y": {"field": "v", "type": "quantitative", "axis": {"orient": "left", "values": [-10, -9, -8, -7, -6, -5, -4, -3, -2, -1, 0, 1, 2, 3, 4, 5, 6, 7, 8, 9, 10, 11, 12, 13, 14, 15, 16, 17, 18, 19, 20], "tickSize": 5, "labels": false, "title": null}}}},
{"mark": {"type": "point", "opacity": 0},
 "encoding": {
  "x": {"field": "x", "type": "quantitative", "axis": {"orient": "top", "values": [0, 5, 10, 15, 20, 25, 30, 35, 40, 45, 50], "tickSize": 5, "labels": false, "title": null}},
  "y": {"field": "v", "type": "quantitative", "axis": {"orient": "right", "values": [-10, -9, -8, -7, -6, -5, -4, -3, -2, -1, 0, 1, 2, 3, 4, 5, 6, 7, 8, 9, 10, 11, 12, 13, 14, 15, 16, 17, 18, 19, 20], "tickSize": 5, "labels": false, "title": null}}}},
{"data": {"values": [{}]},
 "mark": {"type": "rect", "fill": "#fff", "stroke": "#000", "strokeWidth": 1.2},
 "encoding": {"x": {"datum": 43, "type": "quantitative", "axis": null}, "x2": {"datum": 48.75}, "y": {"datum": -6.25, "type": "quantitative", "axis": null}, "y2": {"datum": -9.27}}},
{"data": {"values": [{}]},
 "mark": {"type": "text", "text": "(d)", "font": "DejaVu Serif", "fontSize": 21, "align": "center", "baseline": "middle", "color": "#000"},
 "encoding": {"x": {"datum": 45.9, "type": "quantitative", "axis": null}, "y": {"datum": -7.76, "type": "quantitative", "axis": null}}}
],
"resolve": {"axis": {"x": "independent", "y": "independent"}}
}
],
"config": {
 "view": {"stroke": "#000", "strokeWidth": 2, "fill": "#fff"},
 "axis": {"domain": false, "grid": false, "tickColor": "#000", "tickWidth": 1.4, "labelColor": "#000", "titleColor": "#000", "titleFontWeight": "normal"},
 "title": {"font": "DejaVu Serif", "fontSize": 24, "fontWeight": "normal", "color": "#000", "offset": 8, "baseline": "alphabetic", "anchor": "middle"}
}
}
